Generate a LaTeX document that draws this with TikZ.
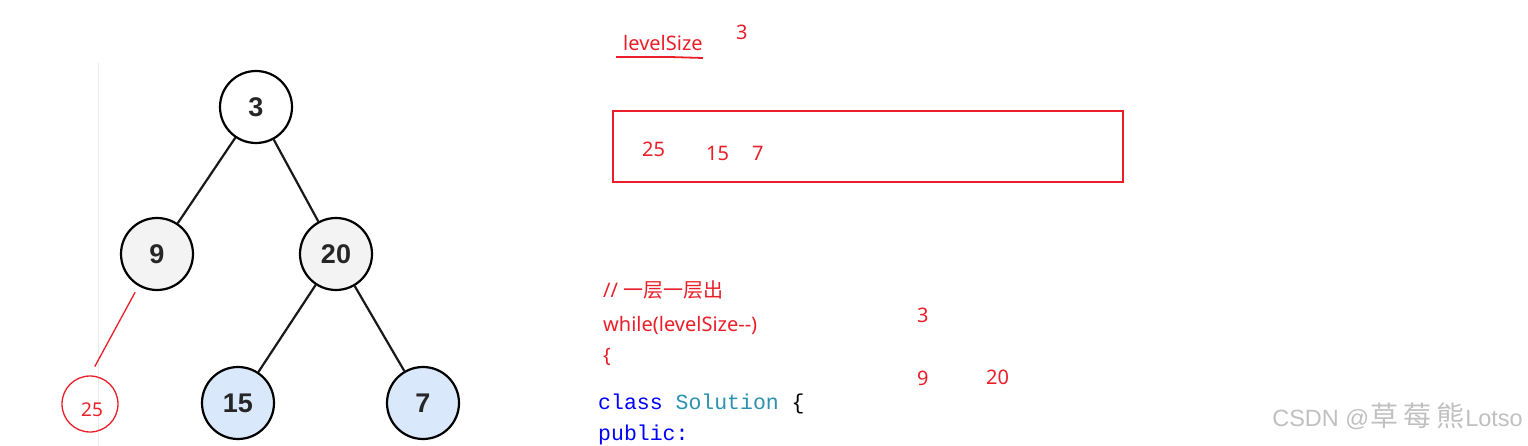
\documentclass[tikz,border=0pt]{standalone}
\usepackage{fontspec}
\setmainfont{Noto Sans}
\newfontfamily\cjkf{Noto Sans CJK SC}
\newfontfamily\treef{Liberation Sans}
\newfontfamily\codef{Liberation Mono}
\definecolor{pen}{RGB}{234,30,40}
\definecolor{nodegray}{RGB}{243,243,243}
\definecolor{nodeblue}{RGB}{218,232,252}
\definecolor{kwblue}{RGB}{0,0,255}
\definecolor{typeteal}{RGB}{43,145,175}
\definecolor{wmgray}{RGB}{192,192,192}
\begin{document}
\begin{tikzpicture}[x=1pt,y=-1pt,
  tnode/.style={circle,draw=black,line width=2.2pt,minimum size=72pt,inner sep=0pt,
    font=\treef\bfseries\fontsize{27}{30}\selectfont,text=black!85},
  tedge/.style={line width=2.2pt,black!90},
  redtxt/.style={anchor=base west,inner sep=0pt,text=pen,font=\fontsize{20}{23}\selectfont},
  codetxt/.style={anchor=base west,inner sep=0pt,font=\codef\fontsize{21.5}{24}\selectfont}]
\useasboundingbox (0,0) rectangle (1528,446);
% faint guide line
\draw[black!8,line width=1pt] (98,63) -- (98,446);
% tree
\node[tnode,fill=white] (n3) at (256,107) {3};
\node[tnode,fill=nodegray] (n9) at (157,254) {9};
\node[tnode,fill=nodegray] (n20) at (336,254) {20};
\node[tnode,fill=nodeblue] (n15) at (238,403) {15};
\node[tnode,fill=nodeblue] (n7) at (423,403) {7};
\draw[tedge] (n3) -- (n9);
\draw[tedge] (n3) -- (n20);
\draw[tedge] (n20) -- (n15);
\draw[tedge] (n20) -- (n7);
% red hand-drawn node
\node[circle,draw=pen,line width=1.3pt,minimum size=56pt,inner sep=0pt] (n25) at (90,404) {};
\node[anchor=base,inner sep=0pt,text=pen,font=\fontsize{19}{21}\selectfont] (n25t) at (92,416) {25};
\draw[pen,line width=1.3pt,shorten <=7pt,shorten >=10pt] (n9.240) -- (n25.north);
% levelSize
\node[redtxt] (ls) at (623,51) {levelSize};
\coordinate (ulA) at (616,57);
\coordinate (ulM) at (670,57);
\coordinate (ulB) at (703,58);
\draw[pen,line width=1.2pt] (ulA) -- (ulM);
\draw[pen,line width=1.8pt] (ulM) -- (ulB);
\node[redtxt] (ls3) at (736,40) {3};
% queue box
\node[draw=pen,line width=1.8pt,minimum width=510pt,minimum height=71pt,inner sep=0pt] (q) at (868,146.5) {};
\node[redtxt] (q25) at (642,157) {25};
\node[redtxt] (q15) at (706,161) {15};
\node[redtxt] (q7) at (752,161) {7};
% code
\node[redtxt] (c1) at (603,298) {// {\cjkf 一层一层出}};
\node[redtxt] (c2) at (603,331) {while(levelSize-{}-)};
\node[redtxt] (c3) at (603,362) {\{};
\node[redtxt] (r3) at (917,322) {3};
\node[redtxt] (r9) at (917,385) {9};
\node[redtxt] (r20) at (986,384) {20};
\node[codetxt] (c4) at (598,409) {\textcolor{kwblue}{class} \textcolor{typeteal}{Solution} \{};
\node[codetxt,text=kwblue] (c5) at (598,440) {public:};
% watermark
\node[anchor=base east,inner sep=0pt,text=wmgray,font=\treef\fontsize{23.5}{26}\selectfont] (wm) at (1523,426)
  {CSDN @\hspace{1pt}{\cjkf\fontsize{28}{30}\selectfont 草\hspace{5pt}莓\hspace{5pt}熊}\hspace{1pt}Lotso};
\end{tikzpicture}
\end{document}
